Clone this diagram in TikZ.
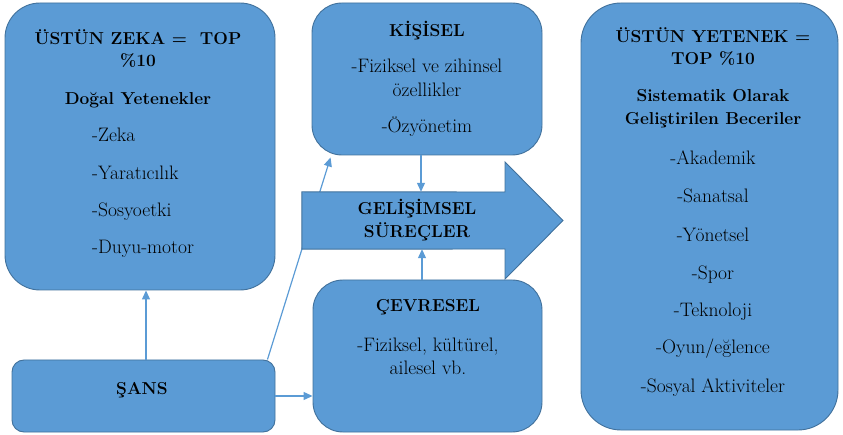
\documentclass[tikz,border=0pt]{standalone}
\usepackage{fontspec}
\usetikzlibrary{arrows.meta}
\definecolor{boxfill}{HTML}{5B9BD5}
\definecolor{boxedge}{HTML}{41719C}
\definecolor{linkc}{HTML}{5B9BD5}
\pgfdeclarelayer{bg}
\pgfsetlayers{bg,main}
\begin{document}
\begin{tikzpicture}[x=1pt,y=-1pt,
  box/.style={draw=boxedge, fill=boxfill, line width=0.9pt, inner sep=0pt, shape=rectangle},
  link/.style={draw=linkc, line width=1.2pt, -{Triangle[length=9pt,width=8pt]}},
  txt/.style={font=\fontsize{19.5}{22}\selectfont, anchor=base, inner sep=0pt, text=black},
  btxt/.style={txt, font=\fontsize{17.3}{22}\selectfont\bfseries},
  ltxt/.style={txt, anchor=base west}
]
\useasboundingbox (0,0) rectangle (843,435);

% boxes
\node[box, rounded corners=35pt, minimum width=270pt, minimum height=287pt] (zeka) at (140,146.5) {};
\node[box, rounded corners=30pt, minimum width=230pt, minimum height=152pt] (kisisel) at (427,79) {};
\node[box, rounded corners=30pt, minimum width=229pt, minimum height=152pt] (cevre) at (427.5,356) {};
\node[box, rounded corners=12pt, minimum width=263pt, minimum height=72pt] (sans) at (143.5,396) {};
\node[box, rounded corners=40pt, minimum width=257pt, minimum height=427pt] (yetenek) at (709.5,216.5) {};

% big arrow (body region as a named node)
\node[inner sep=0pt, minimum width=203pt, minimum height=57pt] (proc) at (403.5,220.5) {};
\draw[box] (proc.north west) -- (505,192) -- (505,162) -- (563,220.5) -- (505,279)
  -- (505,249) -- (proc.south west) -- cycle;

% connector hidden behind the big arrow
\begin{pgfonlayer}{bg}
\draw[link] ([xshift=-8pt]sans.north east) -- ([xshift=19pt,yshift=-2pt]kisisel.south west);
\end{pgfonlayer}

% other connectors
\draw[link] ([xshift=2.5pt]sans.north) -- ([xshift=2.5pt]sans.north |- zeka.south);
\draw[link] (sans.east) -- (sans.east -| cevre.west);
\draw[link] ([xshift=-6pt]kisisel.south) -- ([xshift=-6pt]kisisel.south |- proc.north);
\draw[link] ([xshift=-5.5pt]cevre.north) -- ([xshift=-5.5pt]cevre.north |- proc.south);

% texts: left box
\node[btxt] (z1) at (138,45) {ÜSTÜN ZEKA = \ TOP};
\node[btxt] (z2) at (138,67) {\%10};
\node[btxt] (z3) at (138,105) {Doğal Yetenekler};
\node[ltxt] (z4) at (92,142) {-Zeka};
\node[ltxt] (z5) at (92,180) {-Yaratıcılık};
\node[ltxt] (z6) at (92,217) {-Sosyoetki};
\node[ltxt] (z7) at (92,254) {-Duyu-motor};

% kisisel
\node[btxt] (k1) at (427,37) {KİŞİSEL};
\node[txt] (k2) at (427,73) {-Fiziksel ve zihinsel};
\node[txt] (k3) at (427,97) {özellikler};
\node[txt] (k4) at (427,133) {-Özyönetim};

% gelisimsel
\node[btxt] (g1) at (417,215) {GELİŞİMSEL};
\node[btxt] (g2) at (417,238) {SÜREÇLER};

% cevresel
\node[btxt] (c1) at (428,312) {ÇEVRESEL};
\node[txt] (c2) at (428,352) {-Fiziksel, kültürel,};
\node[txt] (c3) at (428,374) {ailesel vb.};

% sans
\node[btxt] (s1) at (142,395) {ŞANS};

% right box
\node[btxt] (y1) at (713,43) {ÜSTÜN YETENEK =};
\node[btxt] (y2) at (713,65) {TOP \%10};
\node[btxt] (y3) at (713,102) {Sistematik Olarak};
\node[btxt] (y4) at (713,125) {Geliştirilen Beceriler};
\node[txt] (y5) at (713,165) {-Akademik};
\node[txt] (y6) at (713,203) {-Sanatsal};
\node[txt] (y7) at (713,242) {-Yönetsel};
\node[txt] (y8) at (713,280) {-Spor};
\node[txt] (y9) at (713,317) {-Teknoloji};
\node[txt] (y10) at (713,354) {-Oyun/eğlence};
\node[txt] (y11) at (713,392) {-Sosyal Aktiviteler};
\end{tikzpicture}
\end{document}
